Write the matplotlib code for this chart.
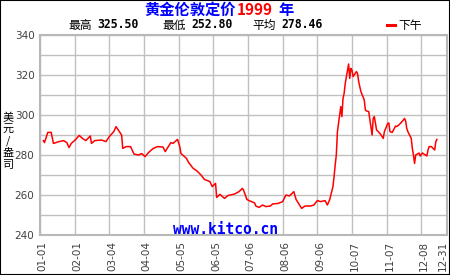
# London gold fix 1999 chart (kitco style)

import matplotlib
matplotlib.use('Agg')
import matplotlib.pyplot as plt
import matplotlib.transforms as mtransforms
from matplotlib.patches import Rectangle
import pandas as pd

year = 1999

dates = ['01-04', '01-05', '01-08', '01-11', '01-13', '01-18', '01-22', '01-25', '01-27', '01-29',
         '02-02', '02-05', '02-08', '02-11', '02-15', '02-16', '02-19', '02-25',
         '03-01', '03-04', '03-08', '03-10', '03-12', '03-15', '03-16', '03-19', '03-23', '03-26', '03-30',
         '04-02', '04-05', '04-08', '04-12', '04-16', '04-21', '04-23', '04-28', '04-30',
         '05-04', '05-06', '05-07', '05-12', '05-14', '05-18', '05-21', '05-25', '05-28',
         '06-02', '06-04', '06-07', '06-08', '06-11', '06-15', '06-18', '06-24', '06-28',
         '07-01', '07-02', '07-05', '07-07', '07-12', '07-13', '07-16', '07-19', '07-22', '07-26', '07-28',
         '08-02', '08-06', '08-09', '08-12', '08-16', '08-18', '08-23', '08-26', '08-31',
         '09-03', '09-06', '09-09', '09-13', '09-15', '09-17', '09-20', '09-21', '09-22', '09-23',
         '09-24', '09-27', '09-28', '09-29', '09-30',
         '10-01', '10-04', '10-05', '10-06', '10-07', '10-08', '10-11', '10-12', '10-13', '10-14',
         '10-15', '10-18', '10-19', '10-20', '10-22', '10-25', '10-26', '10-27', '10-29',
         '11-01', '11-02', '11-04', '11-05', '11-08', '11-09', '11-10', '11-12', '11-15', '11-16',
         '11-18', '11-22', '11-23', '11-24', '11-25', '11-26', '11-29', '11-30',
         '12-01', '12-02', '12-03', '12-06', '12-07', '12-09', '12-13', '12-14', '12-15', '12-17',
         '12-20', '12-21', '12-22']
prices = [287.2, 286.2, 291.3, 291.3, 285.8, 286.7, 287.2, 286.2, 283.7, 285.8,
          287.8, 289.8, 288.3, 287.2, 289.5, 285.8, 287.2, 287.5,
          286.7, 289.2, 291.7, 294.2, 292.5, 290.0, 283.3, 284.2, 284.2, 280.5, 280.0,
          280.7, 279.2, 281.2, 283.2, 284.2, 284.0, 281.7, 286.2, 285.8,
          287.8, 284.2, 280.8, 278.3, 276.2, 273.3, 272.2, 270.0, 267.8,
          266.7, 264.2, 265.8, 258.8, 260.3, 258.3, 259.7, 260.5, 261.7,
          263.3, 262.5, 257.8, 257.2, 256.0, 254.5, 253.8, 255.0, 254.2, 254.5, 255.5,
          255.8, 256.7, 260.0, 259.5, 261.7, 257.8, 253.3, 254.5, 254.5,
          255.0, 257.2, 256.7, 257.2, 255.0, 257.5, 264.2, 269.2, 275.0, 280.0,
          291.7, 304.2, 299.2, 308.3, 310.8,
          315.8, 325.5, 318.3, 323.3, 322.5, 319.2, 321.7, 320.8, 316.7, 314.2,
          311.7, 307.5, 302.5, 302.0, 301.7, 290.0, 298.3, 299.2, 292.5,
          290.8, 290.0, 288.3, 291.7, 295.8, 296.0, 291.7, 291.3, 294.5, 294.2,
          295.0, 297.5, 298.3, 297.0, 293.3, 291.7, 288.3, 283.3,
          280.0, 275.8, 280.0, 281.0, 279.5, 281.0, 279.5, 282.5, 284.2, 284.2,
          282.5, 286.7, 287.8]

tick_labels = ['01-01', '02-01', '03-04', '04-04', '05-05', '06-05', '07-06',
               '08-06', '09-06', '10-07', '11-07', '12-08', '12-31']
stats = [('最高', '325.50'), ('最低', '252.80'), ('平均', '278.46')]

cjk = ['Noto Sans CJK SC', 'DejaVu Sans']
W, H = 450.0, 275.0

days = pd.to_datetime(['{}-{}'.format(year, s) for s in dates]).dayofyear - 1
tick_days = pd.to_datetime(['{}-{}'.format(year, s) for s in tick_labels]).dayofyear - 1

fig = plt.figure(figsize=(4.5, 2.75), dpi=100)
fig.patch.set_facecolor('white')
ax = fig.add_axes([40/W, 1-235/H, 407/W, 200/H])
ax.plot(days, prices, color='#ff0000', lw=1.1, zorder=3)
ax.set_xlim(0, 364)
ax.set_ylim(240, 340)

ax.set_xticks(tick_days)
ax.set_xticklabels(tick_labels, rotation=90, fontsize=7.5, color='#404040')
yt = list(range(240, 341, 10))
ax.set_yticks(yt)
ax.set_yticklabels([str(v) if v % 20 == 0 else '' for v in yt], fontsize=7.5, color='#404040')
ax.tick_params(length=0, pad=4)
ax.grid(color='#c0c0c0', lw=1)
for s in ax.spines.values():
    s.set_color('#b8b8b8')
    s.set_linewidth(1.5)

# nudge x labels like the original, last one pulled inside the frame
labs = ax.get_xticklabels()
for i, lab in enumerate(labs):
    dx = 2/72 if i < len(labs)-1 else -3/72
    lab.set_transform(lab.get_transform() + mtransforms.ScaledTranslation(dx, 0, fig.dpi_scale_trans))

# title in three colours
fig.text(236/W, 1-10/H, '黄金伦敦定价', ha='right', va='center', color='#0000ff',
         fontsize=11, fontweight='bold', family=cjk)
fig.text(237/W, 1-10/H, str(year), ha='left', va='center', color='#ff0000',
         fontsize=11, fontweight='bold', family=cjk)
fig.text(278/W, 1-10/H, '年', ha='left', va='center', color='#0000ff',
         fontsize=11, fontweight='bold', family=cjk)

# stats line
xs = [68, 162, 252]
for (lab, val), x in zip(stats, xs):
    fig.text(x/W, 1-25/H, lab, ha='left', va='center', fontsize=8.5, family=cjk, color='black')
    fig.text((x+29)/W, 1-25/H, val, ha='left', va='center', fontsize=8.3,
             family='DejaVu Sans Mono', fontweight='bold', color='black')

# legend
fig.add_artist(plt.Line2D([387/W, 395/W], [1-25/H, 1-25/H], color='#ff0000', lw=2.2))
fig.text(398/W, 1-25/H, '下午', ha='left', va='center', fontsize=8.5, family=cjk, color='black')

# y label, stacked characters
fig.text(8/W, 1-141/H, '美\n元\n/\n盎\n司', ha='center', va='center', fontsize=8,
         family=cjk, linespacing=1.2, color='black')

fig.text(225.5/W, 1-230/H, 'www.kitco.cn', ha='center', va='center', fontsize=10.5,
         family='DejaVu Sans Mono', fontweight='bold', color='#0000ff')

fig.patches.append(Rectangle((0, 0), 1, 1, transform=fig.transFigure, fill=False,
                             ec='black', lw=1.5))

fig.savefig('out.png', dpi=100)
